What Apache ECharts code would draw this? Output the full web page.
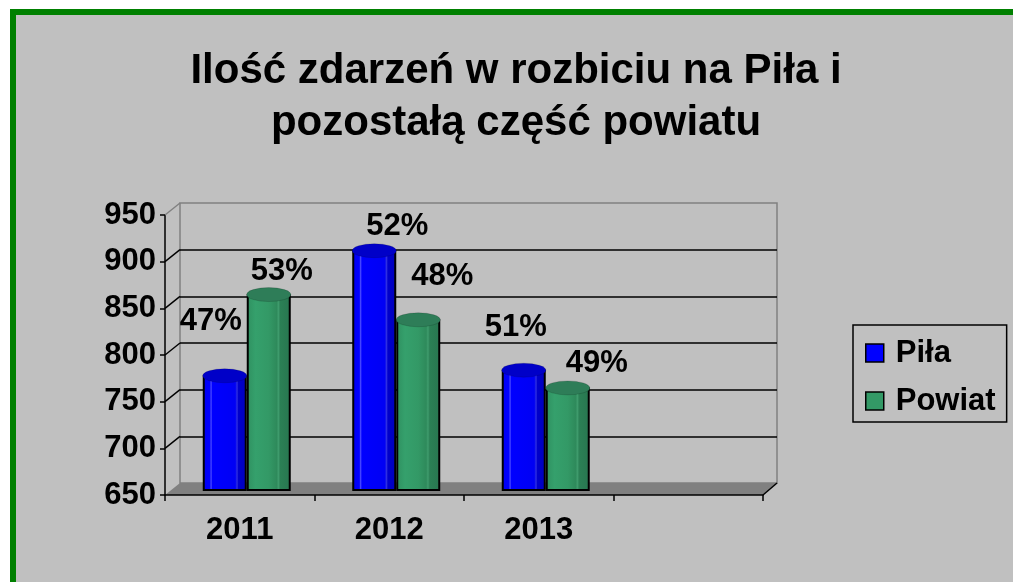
<!DOCTYPE html>
<html>
<head>
<meta charset="utf-8">
<script src="https://cdn.jsdelivr.net/npm/echarts@6/dist/echarts.min.js"></script>
<style>
    html, body { margin: 0; padding: 0; background: #fff; }
    #chart { width: 1013px; height: 582px; }
</style>
</head>
<body>
<div id="chart"></div>
<script>
const years = ['2011', '2012', '2013', ''];
const pila = [773, 907, 779];
const powiat = [860, 833, 760];
const yMin = 650, yMax = 950, yStep = 50;

// share of each series within a year
const pct = (a, b) => Math.round(a / (a + b) * 100) + '%';
const pilaPct = pila.map((v, i) => pct(v, powiat[i]));
const powiatPct = powiat.map((v, i) => pct(v, pila[i]));

// label nudges, the way excel scattered them
const pilaShift = [[-14, -38], [23, -8], [-8, -26]];
const powiatShift = [[13, -7], [24, -27], [29, -8]];

// pseudo 3d: back wall, bar plane (middle), front axes
const back = {left: 180, top: 203, right: 777, bottom: 483};
const mid = {left: 172, top: 210, right: 770, bottom: 490};
const front = {left: 165, top: 215, right: 763, bottom: 495};
const FONT = '"Liberation Sans", Arial, sans-serif';

function gridOf(r) {
    return {left: r.left, top: r.top, width: r.right - r.left, height: r.bottom - r.top};
}

function faceGradient(stops) {
    return new echarts.graphic.LinearGradient(0, 0, 1, 0,
        stops.map(s => ({offset: s[0], color: s[1]})));
}
const blueFace = faceGradient([[0, '#0000f0'], [0.16, '#0000ff'], [0.19, '#4a4aff'], [0.22, '#0000ff'],
    [0.74, '#0000f4'], [0.78, '#3030e0'], [0.81, '#0000cc'], [1, '#0000bb']]);
const greenFace = faceGradient([[0, '#2f9060'], [0.2, '#35a06c'], [0.5, '#339966'], [0.68, '#2e8a5b'],
    [0.72, '#3f9c6d'], [0.76, '#2b8055'], [1, '#287650']]);

const labelBase = {
    show: true, position: 'top', distance: 0,
    fontFamily: FONT, fontSize: 31, fontWeight: 'bold', color: '#000', lineHeight: 32
};

// side wall diagonals + floor
const graphics = [{
    type: 'rect', z: -10,
    shape: {x: 13, y: 12, width: 1100, height: 700},
    style: {fill: '#c0c0c0', stroke: '#008000', lineWidth: 6}
}, {
    type: 'polygon', z: 1,
    shape: {points: [[front.left, front.bottom], [back.left, back.bottom], [back.right, back.bottom], [front.right, front.bottom]]},
    style: {fill: '#808080', stroke: null}
}, {
    type: 'line', z: 5,
    shape: {x1: back.right, y1: back.bottom, x2: front.right, y2: front.bottom},
    style: {stroke: '#000', lineWidth: 1.5}
}];
for (let v = yMin + yStep; v <= yMax; v += yStep) {
    const t = (yMax - v) / (yMax - yMin);
    graphics.push({
        type: 'line', z: 5,
        shape: {
            x1: front.left, y1: front.top + t * (front.bottom - front.top),
            x2: back.left, y2: back.top + t * (back.bottom - back.top)
        },
        style: {stroke: v === yMax ? '#808080' : '#000', lineWidth: 1.5}
    });
}

const chart = echarts.init(document.getElementById('chart'));
chart.setOption({
    backgroundColor: '#ffffff',
    animation: false,
    title: {
        text: 'Ilość zdarzeń w rozbiciu na Piła i\npozostałą część powiatu',
        left: 516, top: 45, padding: 0, textAlign: 'center',
        textStyle: {fontFamily: FONT, fontSize: 42, fontWeight: 'bold', color: '#000', lineHeight: 52}
    },
    legend: {
        orient: 'vertical', left: 853, top: 325,
        padding: [11, 11, 4, 12], itemGap: 14,
        itemWidth: 18, itemHeight: 18, icon: 'rect',
        borderColor: '#000', borderWidth: 1.5,
        textStyle: {fontFamily: FONT, fontSize: 31, fontWeight: 'bold', color: '#000', lineHeight: 34, padding: [0, 0, 0, 7]},
        data: [
            {name: 'Piła', itemStyle: {color: '#0000ff', borderColor: '#000', borderWidth: 1.5}},
            {name: 'Powiat', itemStyle: {color: '#339966', borderColor: '#000', borderWidth: 1.5}}
        ]
    },
    graphic: graphics,
    grid: [
        Object.assign(gridOf(back), {show: true, borderColor: '#808080', borderWidth: 1.5, backgroundColor: 'transparent'}),
        gridOf(mid),
        gridOf(front)
    ],
    xAxis: [
        {gridIndex: 0, type: 'category', data: years, show: false},
        {gridIndex: 1, type: 'category', data: years, show: false},
        {gridIndex: 1, type: 'category', data: years, show: false},
        {
            gridIndex: 2, type: 'category', data: years, z: 4,
            axisLine: {lineStyle: {color: '#000', width: 1.5}},
            axisTick: {show: true, length: 6, lineStyle: {color: '#000', width: 1.5}},
            axisLabel: {fontFamily: FONT, fontSize: 31, fontWeight: 'bold', color: '#000', margin: 20}
        }
    ],
    yAxis: [
        {
            gridIndex: 0, type: 'value', min: yMin, max: yMax, interval: yStep,
            axisLine: {show: false}, axisTick: {show: false}, axisLabel: {show: false},
            splitLine: {show: true, showMinLine: false, showMaxLine: false, lineStyle: {color: '#000', width: 1.5}}
        },
        {gridIndex: 1, type: 'value', min: yMin, max: yMax, interval: yStep, show: false, splitLine: {show: false}},
        {
            gridIndex: 2, type: 'value', min: yMin, max: yMax, interval: yStep, z: 4,
            axisLine: {show: true, lineStyle: {color: '#000', width: 1.5}},
            axisTick: {show: true, length: 5, lineStyle: {color: '#000', width: 1.5}},
            axisLabel: {fontFamily: FONT, fontSize: 31, fontWeight: 'bold', color: '#000', margin: 9},
            splitLine: {show: false}
        }
    ],
    series: [
        {
            name: 'Piła', type: 'bar', xAxisIndex: 1, yAxisIndex: 1,
            barWidth: 44, barGap: '0%', z: 3,
            itemStyle: {color: blueFace, borderColor: '#000', borderWidth: 2},
            label: Object.assign({}, labelBase, {formatter: p => pilaPct[p.dataIndex]}),
            data: pila.map((v, i) => ({value: v, label: {offset: pilaShift[i]}}))
        },
        {
            name: 'Powiat', type: 'bar', xAxisIndex: 1, yAxisIndex: 1,
            barWidth: 44, barGap: '0%', z: 3,
            itemStyle: {color: greenFace, borderColor: '#000', borderWidth: 2},
            label: Object.assign({}, labelBase, {formatter: p => powiatPct[p.dataIndex]}),
            data: powiat.map((v, i) => ({value: v, label: {offset: powiatShift[i]}}))
        },
        {
            name: 'Piła', type: 'pictorialBar', xAxisIndex: 2, yAxisIndex: 1,
            barWidth: 44, barGap: '0%', z: 4,
            symbol: 'circle', symbolSize: [44, 14], symbolPosition: 'end', symbolOffset: [0, '-50%'],
            itemStyle: {color: '#0000c8', borderColor: '#000', borderWidth: 2},
            data: pila
        },
        {
            name: 'Powiat', type: 'pictorialBar', xAxisIndex: 2, yAxisIndex: 1,
            barWidth: 44, barGap: '0%', z: 4,
            symbol: 'circle', symbolSize: [44, 14], symbolPosition: 'end', symbolOffset: [0, '-50%'],
            itemStyle: {color: '#2e7d58', borderColor: '#000', borderWidth: 2},
            data: powiat
        }
    ]
});
</script>
</body>
</html>
